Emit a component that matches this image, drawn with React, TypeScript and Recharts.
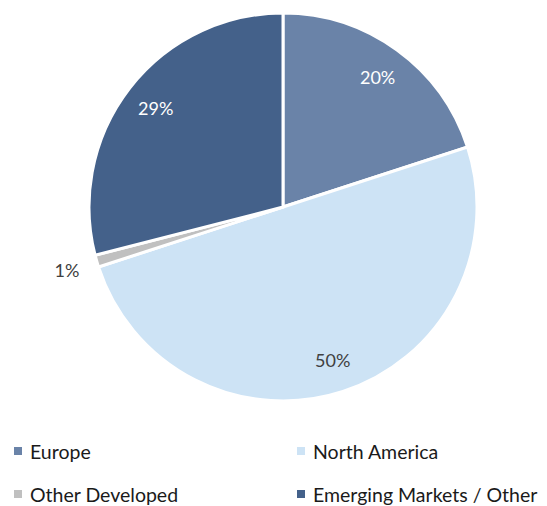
import React from 'react';
import { PieChart, Pie, Cell } from 'recharts';

const regions = ['Europe', 'North America', 'Other Developed', 'Emerging Markets / Other'];
const shares = [20, 50, 1, 29];
const sliceColors = ['#6a83a8', '#cde3f5', '#c0c0c0', '#44618a'];
const labelColors = ['#ffffff', '#404040', '#404040', '#ffffff'];

const data = regions.map((name, i) => ({ name, value: shares[i] }));

const FONT = 'Lato, "Open Sans", sans-serif';
const RAD = Math.PI / 180;

const renderLabel = (props: any) => {
  const { cx, cy, midAngle, outerRadius, percent, index } = props;
  const small = percent < 0.05;
  const r = small ? outerRadius + 31 : outerRadius * 0.83;
  const x = cx + r * Math.cos(-midAngle * RAD);
  const y = cy + r * Math.sin(-midAngle * RAD);
  return (
    <text
      x={x}
      y={y}
      fill={small ? '#404040' : labelColors[index]}
      textAnchor="middle"
      dominantBaseline="central"
      fontSize={18}
      fontFamily={FONT}
    >
      {`${Math.round(percent * 100)}%`}
    </text>
  );
};

export default function App() {
  return (
    <div style={{ position: 'absolute', left: 0, top: 0, width: 547, height: 506, background: '#fff', fontFamily: FONT }}>
      <PieChart width={547} height={420} margin={{ top: 0, right: 0, bottom: 0, left: 0 }}>
        <Pie
          data={data}
          dataKey="value"
          nameKey="name"
          cx={283}
          cy={207}
          outerRadius={194}
          startAngle={90}
          endAngle={-270}
          stroke="#ffffff"
          strokeWidth={3}
          label={renderLabel}
          labelLine={false}
          isAnimationActive={false}
        >
          {data.map((d, i) => (
            <Cell key={d.name} fill={sliceColors[i]} />
          ))}
        </Pie>
      </PieChart>
      {regions.map((name, i) => {
        const col = i % 2;
        const row = Math.floor(i / 2);
        const left = col === 0 ? 14 : 297;
        const top = row === 0 ? 451 : 494;
        return (
          <div
            key={name}
            style={{ position: 'absolute', left, top: top - 12, height: 24, display: 'flex', alignItems: 'center', whiteSpace: 'nowrap' }}
          >
            <span style={{ width: 8, height: 8, background: sliceColors[i], display: 'inline-block', marginRight: 8 }} />
            <span style={{ fontSize: 19.5, color: '#1a1a1a' }}>{name}</span>
          </div>
        );
      })}
    </div>
  );
}
